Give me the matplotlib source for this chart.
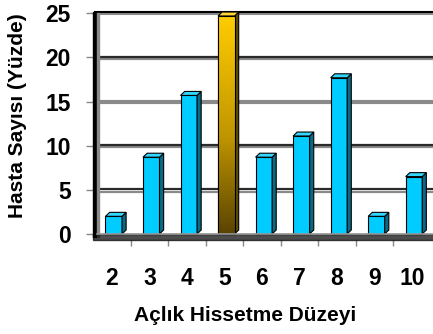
import numpy as np
import matplotlib
matplotlib.use('Agg')
import matplotlib.pyplot as plt
from matplotlib.patches import Polygon, Rectangle

plt.rcParams['font.family'] = ['Liberation Sans', 'DejaVu Sans']

categories = ['2', '3', '4', '5', '6', '7', '8', '9', '10']
values = [2.3, 9.0, 16.0, 25.0, 9.0, 11.4, 18.0, 2.3, 6.8]
highlight = '5'
y_ticks = [0, 5, 10, 15, 20, 25]
x_title = 'Açlık Hissetme Düzeyi'
y_title = 'Hasta Sayısı (Yüzde)'

fig = plt.figure(figsize=(4.33, 3.34), dpi=100)
ax = fig.add_axes([0.215, 0.281, 0.78, 0.683])
ax.set_xlim(-0.5, 8.5)
ax.set_ylim(-0.7, 25.15)

# back wall gridlines
for t in y_ticks[1:-1]:
    if t == 15:
        ax.plot([-0.4, 8.6], [t - 0.1, t - 0.1], color='#8a8a8a', lw=3.0, zorder=1, clip_on=False)
    else:
        ax.plot([-0.4, 8.6], [t - 0.2, t - 0.2], color='#8a8a8a', lw=1.6, zorder=1, clip_on=False)
        ax.plot([-0.4, 8.6], [t + 0.05, t + 0.05], color='#2a2a2a', lw=1.6, zorder=1, clip_on=False)
# top edge of the wall
ax.plot([-0.45, 8.6], [25.0, 25.0], color='#8a8a8a', lw=2.2, zorder=1, clip_on=False)
ax.plot([-0.45, 8.6], [25.15, 25.15], color='black', lw=1.5, zorder=1, clip_on=False)

# left wall
ax.add_patch(Rectangle((-0.5, -0.3), 0.1, 25.45, color='black', zorder=2, clip_on=False))
ax.add_patch(Rectangle((-0.4, -0.3), 0.06, 25.35, color='#8a8a8a', zorder=2, clip_on=False))

# 3d-looking bars
w = 0.44
dx, dy = 0.11, 0.45
xs = np.arange(len(categories))
for i, (c, v) in enumerate(zip(categories, values)):
    x0 = i - w / 2 + 0.05
    x1 = x0 + w
    top = v - 0.3
    if c == highlight:
        front_c, side_c, top_c = '#FFCC00', '#5c4a08', '#FFD633'
    else:
        front_c, side_c, top_c = '#00CCFF', '#0a6a86', '#33D6FF'
    bar = ax.bar(i + 0.05, top, width=w, color=front_c, edgecolor='black', lw=0.8, zorder=3)[0]
    if c == highlight:
        grad = np.linspace(1, 0, 256).reshape(-1, 1)
        cmap = matplotlib.colors.LinearSegmentedColormap.from_list(
            'g', [(0, '#5a4300'), (0.45, '#c09600'), (1, '#FFCC00')])
        im = ax.imshow(grad, cmap=cmap, extent=[x0, x1, 0, top], aspect='auto', zorder=3.5, origin='upper')
        im.set_clip_path(bar)
        ax.add_patch(Rectangle((x0, 0), w, top, fill=False, edgecolor='black', lw=0.8, zorder=3.6))
    ax.add_patch(Polygon([(x1, 0), (x1 + dx, dy), (x1 + dx, top + dy), (x1, top)],
                         closed=True, facecolor=side_c, edgecolor='black', lw=0.8, zorder=3))
    ax.add_patch(Polygon([(x0, top), (x1, top), (x1 + dx, top + dy), (x0 + dx, top + dy)],
                         closed=True, facecolor=top_c, edgecolor='black', lw=0.8, zorder=3))

# floor
ax.add_patch(Rectangle((-0.5, -0.7), 9.2, 0.7, color='black', alpha=0.7, zorder=5, clip_on=False))
ax.plot([-0.4, 8.6], [0.0, 0.0], color='#9a9a9a', lw=1.2, zorder=5, clip_on=False)

for s in ax.spines.values():
    s.set_visible(False)

ax.set_yticks(y_ticks)
ax.set_yticklabels([str(t) for t in y_ticks], fontsize=16.5, fontweight='bold')
ax.tick_params(axis='y', length=5, width=1, color='#888888', pad=11)

ax.set_xticks(xs)
ax.set_xticklabels(categories, fontsize=16.5, fontweight='bold')
ax.tick_params(axis='x', length=0, pad=19)
ax.set_xticks(xs[:-1] + 0.5, minor=True)
ax.tick_params(axis='x', which='minor', length=4, width=1, color='#888888')

fig.text(0.566, 0.054, x_title, fontsize=15, fontweight='bold', ha='center', va='center')
fig.text(0.04, 0.653, y_title, fontsize=15, fontweight='bold', ha='center', va='center', rotation=90)

fig.savefig('out.png', dpi=100)
